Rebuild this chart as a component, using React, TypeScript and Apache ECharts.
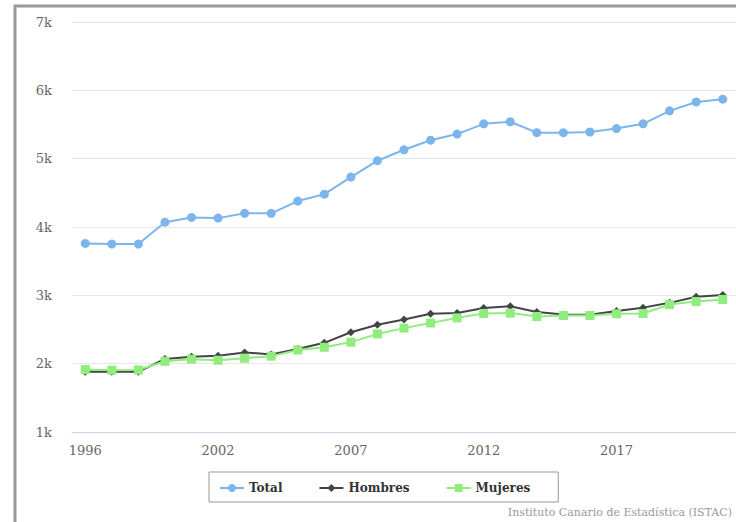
import React, { useEffect, useRef } from "react";
import * as echarts from "echarts";

const years = ["1996","1998","1999","2000","2001","2002","2003","2004","2005","2006","2007","2008","2009","2010","2011","2012","2013","2014","2015","2016","2017","2018","2019","2020","2021"];
const total = [3760, 3750, 3750, 4070, 4140, 4130, 4200, 4200, 4380, 4480, 4730, 4970, 5130, 5270, 5360, 5510, 5540, 5380, 5380, 5390, 5440, 5510, 5700, 5830, 5870];
const hombres = [1880, 1880, 1880, 2070, 2100, 2115, 2165, 2135, 2215, 2305, 2460, 2570, 2645, 2730, 2740, 2815, 2840, 2755, 2720, 2715, 2770, 2820, 2890, 2980, 3005];
const mujeres = [1915, 1905, 1908, 2035, 2065, 2050, 2080, 2110, 2200, 2240, 2315, 2435, 2520, 2595, 2670, 2735, 2740, 2690, 2705, 2705, 2730, 2735, 2865, 2910, 2940];

const FONT = "DejaVu Serif";

export default function App() {
  const ref = useRef<HTMLDivElement>(null);
  useEffect(() => {
    const chart = echarts.init(ref.current!, null, { renderer: "svg" });
    chart.setOption({
      animation: false,
      backgroundColor: "#ffffff",
      textStyle: { fontFamily: FONT },
      grid: { left: 72, top: 22, height: 410, width: 673 },
      xAxis: {
        type: "category",
        data: years,
        boundaryGap: true,
        axisLine: { show: true, lineStyle: { color: "#ccd6eb", width: 1 } },
        axisTick: { show: false },
        axisLabel: { interval: 4, color: "#666666", fontSize: 13, fontFamily: FONT, margin: 12 },
        splitLine: { show: false },
      },
      yAxis: {
        type: "value",
        min: 1000,
        max: 7000,
        interval: 1000,
        axisLine: { show: false },
        axisTick: { show: false },
        axisLabel: {
          color: "#666666",
          fontSize: 13,
          fontFamily: FONT,
          margin: 20,
          formatter: (v: number) => v / 1000 + "k",
        },
        splitLine: { lineStyle: { color: "#e6e6e6", width: 1 } },
      },
      legend: {
        left: 209,
        top: 472,
        padding: [10, 28, 8, 10],
        itemGap: 36,
        itemWidth: 24,
        itemHeight: 10,
        borderColor: "#999999",
        borderWidth: 1,
        textStyle: { fontFamily: FONT, fontSize: 12, fontWeight: "bold", color: "#333333" },
        data: ["Total", "Hombres", "Mujeres"],
      },
      series: [
        {
          name: "Total",
          type: "line",
          data: total,
          color: "#7cb5ec",
          symbol: "circle",
          symbolSize: 9,
          lineStyle: { width: 2 },
        },
        {
          name: "Hombres",
          type: "line",
          data: hombres,
          color: "#434348",
          symbol: "diamond",
          symbolSize: 8,
          lineStyle: { width: 2 },
        },
        {
          name: "Mujeres",
          type: "line",
          data: mujeres,
          color: "#90ed7d",
          symbol: "rect",
          symbolSize: 9,
          lineStyle: { width: 2 },
        },
      ],
      graphic: [
        {
          type: "rect",
          shape: { x: 15, y: 6, width: 900, height: 700 },
          style: { fill: "none", stroke: "#9a9a9a", lineWidth: 3 },
          silent: true,
        },
        {
          type: "text",
          right: 4,
          top: 507,
          style: {
            text: "Instituto Canario de Estadística (ISTAC)",
            fill: "#999999",
            font: "11px 'DejaVu Serif'",
          },
        },
      ],
    });
    return () => chart.dispose();
  }, []);
  return (
    <div style={{ position: "fixed", left: 0, top: 0, width: 736, height: 522 }}>
      <div ref={ref} style={{ width: 736, height: 522 }} />
    </div>
  );
}
